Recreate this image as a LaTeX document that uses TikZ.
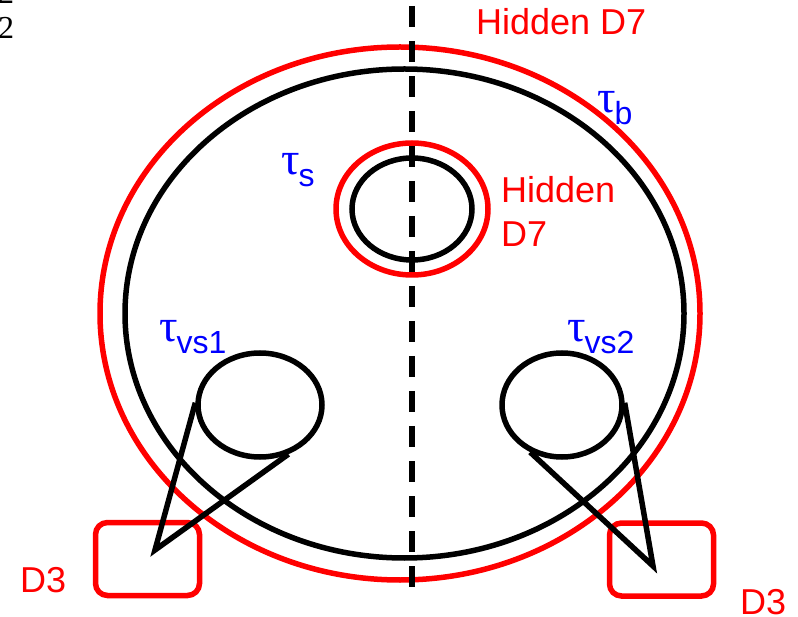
\documentclass[tikz,border=0pt]{standalone}
\usepackage{fontspec}
\setmainfont{Liberation Sans}
\newfontfamily\numfont{Liberation Serif}
\usetikzlibrary{shapes.geometric}

\newcommand{\tauname}[1]{{\numfont\fontsize{46}{50}\selectfont τ}\kern-1pt\raisebox{-12pt}{\fontsize{32}{36}\selectfont #1}}

\tikzset{
  blk/.style={draw=black, line width=5.5pt},
  rd/.style={draw=red, line width=5.5pt},
  hole/.style={ellipse, inner sep=0pt},
  lbl/.style={text=red, font=\fontsize{36}{44}\selectfont, inner sep=0pt, anchor=base west},
  tlbl/.style={text=blue, inner sep=0pt, anchor=base west},
  numlbl/.style={inner sep=0pt, anchor=base west, font={\numfont\fontsize{32}{36}\selectfont}},
  dthree/.style={rd, rounded corners=12pt, minimum width=104pt, minimum height=73pt, inner sep=0pt},
  axis/.style={draw=black, line width=5.5pt, dash pattern=on 21pt off 14pt}
}

\begin{document}
\begin{tikzpicture}[x=1pt,y=-1pt]
\useasboundingbox (0,0) rectangle (798,617);

\node[numlbl] (numa) at (-2,4) {2};
\node[numlbl] (numb) at (-2,39) {2};

% red parts
\draw[rd] (400,313.5) ellipse [x radius=300, y radius=266.5];
\node[hole, rd, minimum width=152pt, minimum height=132pt] (hidS) at (412,209) {};
\node[dthree] (boxL) at (147.5,559) {};
\node[dthree] (boxR) at (661.5,559.5) {};

% black parts
\draw[blk] (404.5,313.5) ellipse [x radius=279.5, y radius=244.5];
\node[hole, blk, minimum width=120pt, minimum height=102pt] (ts) at (412,209) {};
\node[hole, blk, minimum width=124pt, minimum height=104pt] (vs1) at (260,405) {};
\node[hole, blk, minimum width=120pt, minimum height=104pt] (vs2) at (562,405) {};

\coordinate (tipL) at (155,550);
\coordinate (tipR) at (653,566);
\draw[blk] (vs1.178) -- (tipL) -- (vs1.-60);
\draw[blk] (vs2.2) -- (tipR) -- (vs2.236);

\coordinate (axtop) at (412,6);
\coordinate (axbot) at (412,597);
\draw[axis] (axtop) -- (axbot);

% labels
\node[lbl] (hidB) at (476,35) {Hidden D7};
\node[lbl] (hidA) at (501,203) {Hidden};
\node[lbl] (hidA2) at (501,247) {D7};
\node[lbl] (dL) at (20,592) {D3};
\node[lbl] (dR) at (740,614) {D3};

\node[tlbl] (tb) at (597,113) {\tauname{b}};
\node[tlbl] (tsl) at (281,175) {\tauname{s}};
\node[tlbl] (tv1) at (159,342) {\tauname{vs1}};
\node[tlbl] (tv2) at (567,342) {\tauname{vs2}};
\end{tikzpicture}
\end{document}
